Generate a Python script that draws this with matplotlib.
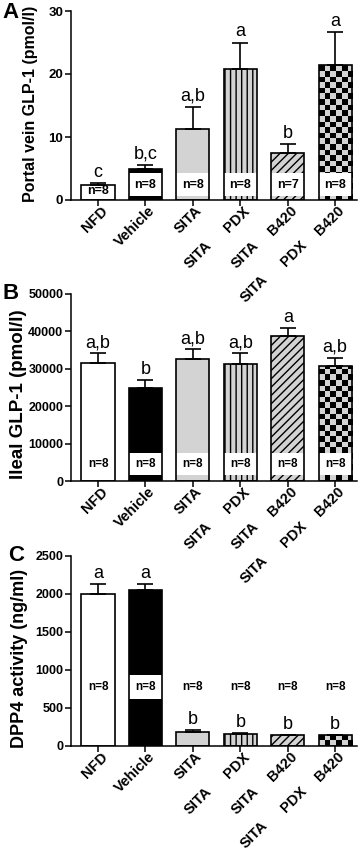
import numpy as np
import matplotlib
matplotlib.use("Agg")
import matplotlib.pyplot as plt
from matplotlib.colors import ListedColormap

plt.rcParams['font.family'] = ['Liberation Sans', 'DejaVu Sans']
plt.rcParams['hatch.linewidth'] = 1.0

# ---------------- data ----------------
label_rows = [["NFD"], ["Vehicle"], ["SITA"], ["PDX", "SITA"],
              ["B420", "SITA"], ["B420", "PDX", "SITA"]]

portal_mean = [2.4, 4.9, 11.3, 20.8, 7.4, 21.4]
portal_sem = [0.35, 0.65, 3.5, 4.2, 1.55, 5.3]
portal_letters = ["c", "b,c", "a,b", "a", "b", "a"]
portal_n = [8, 8, 8, 8, 7, 8]

ileal_mean = [31500, 25000, 32700, 31400, 38700, 30700]
ileal_sem = [2700, 2000, 2500, 2700, 2300, 2200]
ileal_letters = ["a,b", "b", "a,b", "a,b", "a", "a,b"]
ileal_n = [8, 8, 8, 8, 8, 8]

dpp4_mean = [2005, 2053, 189, 154, 141, 141]
dpp4_sem = [131, 79, 18, 21, 7, 9]
dpp4_letters = ["a", "a", "b", "b", "b", "b"]
dpp4_n = [8, 8, 8, 8, 8, 8]

# ---------------- styles ----------------
GREY = "#d3d3d3"
face = ["white", "black", GREY, GREY, GREY, GREY]
hatches = [None, None, None, "|||", "////", None]
checker = [False, False, False, False, False, True]

W, H = 360, 850
fig = plt.figure(figsize=(W / 100, H / 100), dpi=100)

def rect(top, bottom, left=71, right=357):
    return [left / W, 1 - bottom / H, (right - left) / W, (bottom - top) / H]

panels = [
    dict(rect=rect(11, 200), mean=portal_mean, sem=portal_sem, letters=portal_letters,
         n=portal_n, ymax=30, step=10, ylabel="Portal vein GLP-1 (pmol/l)", ylfs=11.5,
         ylx=31, yly=104, box=(0.6, 4.3), tickfs=9.5, nfs=9, letter="A", lpos=(2, 2)),
    dict(rect=rect(294, 481), mean=ileal_mean, sem=ileal_sem, letters=ileal_letters,
         n=ileal_n, ymax=50000, step=10000, ylabel="Ileal GLP-1 (pmol/l)", ylfs=13.5,
         ylx=19, yly=394, box=(1700, 7600), tickfs=9, nfs=8.5, letter="B", lpos=(2, 283)),
    dict(rect=rect(556, 746), mean=dpp4_mean, sem=dpp4_sem, letters=dpp4_letters,
         n=dpp4_n, ymax=2500, step=500, ylabel="DPP4 activity (ng/ml)", ylfs=13,
         ylx=20, yly=658, box=(624, 932), tickfs=9, nfs=8.5, letter="C", lpos=(8, 545)),
]

x = np.arange(len(label_rows))
bw = 0.70
sq_px = 5.6  # checker square size in pixels

for p in panels:
    ax = fig.add_axes(p["rect"])
    ax.set_facecolor("none")
    mean = np.array(p["mean"], float)
    sem = np.array(p["sem"], float)
    ax.set_xlim(-0.57, 5.46)
    ax.set_ylim(0, p["ymax"])

    # fills
    for i in range(len(x)):
        b = ax.bar(x[i], mean[i], width=bw, color=face[i], edgecolor="black",
                   linewidth=0, hatch=hatches[i], zorder=2)
        if checker[i]:
            ax_h_px = p["rect"][3] * H
            ax_w_px = p["rect"][2] * W
            sq_y = p["ymax"] * sq_px / ax_h_px
            sq_x = 6.03 * sq_px / ax_w_px
            ncol = int(np.ceil(bw / sq_x))
            nrow = int(np.ceil(mean[i] / sq_y)) + 1
            grid = (np.add.outer(np.arange(nrow), np.arange(ncol)) % 2).astype(float)
            x0 = x[i] - bw / 2
            img = ax.imshow(grid, extent=(x0, x0 + ncol * sq_x, 0, nrow * sq_y),
                            origin="lower", cmap=ListedColormap([GREY, "black"]),
                            interpolation="nearest", aspect="auto", zorder=2.1)
            img.set_clip_path(b.patches[0])
        # white n-box
        lo, hi = p["box"]
        top = min(hi, mean[i])
        if lo < mean[i]:
            ax.bar(x[i], top - lo, bottom=lo, width=bw, color="white",
                   linewidth=0, zorder=2.2)
        ty = (lo + top) / 2 if lo < mean[i] else (lo + hi) / 2
        ax.text(x[i], ty, f"n={p['n'][i]}", ha="center", va="center",
                fontsize=p["nfs"], fontweight="bold", zorder=3)

    # outlines
    ax.bar(x, mean, width=bw, fill=False, edgecolor="black", linewidth=1.2, zorder=2.5)
    # error bars (upper only)
    ax.errorbar(x, mean, yerr=[np.zeros_like(sem), sem], fmt="none", ecolor="black",
                elinewidth=1.2, capsize=6, capthick=1.2, zorder=2.6)
    # significance letters
    for i in range(len(x)):
        ax.annotate(p["letters"][i], xy=(x[i], mean[i] + sem[i]), xytext=(0, 1.5),
                    textcoords="offset points", ha="center", va="bottom", fontsize=13)

    ax.set_yticks(np.arange(0, p["ymax"] + 1, p["step"]))
    ax.set_yticklabels([f"{int(v)}" for v in np.arange(0, p["ymax"] + 1, p["step"])],
                       fontsize=p["tickfs"], fontweight="bold")
    ax.set_xticks(x)
    ax.set_xticklabels([""] * len(x))
    ax.tick_params(axis="both", direction="out", length=4, width=1.1, pad=1.5)
    for s in ["top", "right"]:
        ax.spines[s].set_visible(False)
    for s in ["left", "bottom"]:
        ax.spines[s].set_linewidth(1.1)

    # x labels, multi-row along diagonal
    for i, rows in enumerate(label_rows):
        for k, word in enumerate(rows):
            ax.annotate(word, xy=(x[i], 0), xycoords=ax.get_xaxis_transform(),
                        xytext=(1.5 - 27.5 * k, -2.5 - 25 * k), textcoords="offset points",
                        rotation=45, rotation_mode="anchor", ha="right", va="top",
                        fontsize=10.5, fontweight="bold", annotation_clip=False)

    # y label
    fig.text(p["ylx"] / W, 1 - p["yly"] / H, p["ylabel"], rotation=90, ha="center",
             va="center", fontsize=p["ylfs"], fontweight="bold")
    # panel letter
    fig.text(p["lpos"][0] / W, 1 - p["lpos"][1] / H, p["letter"], ha="left", va="top",
             fontsize=16, fontweight="bold")

fig.savefig("out.png", dpi=100)
